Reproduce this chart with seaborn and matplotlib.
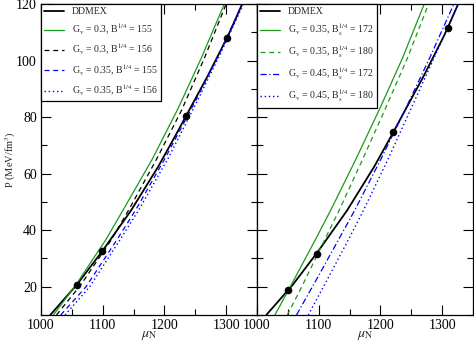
import numpy as np
import pandas as pd
import matplotlib
matplotlib.use("Agg")
import matplotlib.pyplot as plt
from matplotlib.ticker import MultipleLocator
import seaborn as sns

sns.set_theme(style="white")
plt.rcParams['font.family'] = ['Liberation Serif', 'DejaVu Serif']
plt.rcParams['mathtext.fontset'] = 'stix'

# ---------------- data ----------------
# DDMEX hadronic EOS (same curve in both panels)
ddmex_mu = [1015, 1058, 1099, 1146, 1190, 1221, 1235, 1270, 1302, 1309, 1326]
ddmex_P = [10, 20.7, 32.5, 47, 62.5, 74.7, 80.4, 94.5, 108.3, 111.6, 120]

# left panel quark EOS
l_gv03_b155_mu = [1020, 1056, 1105, 1134, 1180, 1222, 1260, 1297]
l_gv03_b155_P = [10, 20.5, 36.6, 47.5, 65, 83, 101, 120]
l_gv03_b156_mu = [1025, 1064, 1114, 1143, 1187, 1228, 1265, 1300]
l_gv03_b156_P = [10, 20.5, 36.6, 47.5, 65, 82.5, 101, 120]
l_gv035_b155_mu = [1032, 1073, 1123, 1153, 1200, 1251, 1290, 1326]
l_gv035_b155_P = [10, 20, 36.6, 47, 65, 86, 103, 120]
l_gv035_b156_mu = [1039, 1079, 1128, 1158, 1205, 1254, 1292, 1328]
l_gv035_b156_P = [10, 20, 36.6, 47, 65, 86, 103, 120]
left_dots_mu = [1058, 1099, 1235, 1302]
left_dots_P = [20.7, 32.5, 80.4, 108]

# right panel quark EOS
r_gv035_b172_mu = [1029, 1051, 1094, 1120, 1160, 1200, 1236, 1271]
r_gv035_b172_P = [10, 18.8, 36.4, 47.3, 65, 83.5, 101, 120]
r_gv035_b180_mu = [1049, 1071, 1098, 1133, 1171, 1209, 1244, 1278]
r_gv035_b180_P = [10, 19.3, 31.4, 47, 65, 83.5, 101, 120]
r_gv045_b172_mu = [1064, 1098, 1132, 1159, 1200, 1242, 1281, 1319]
r_gv045_b172_P = [10, 23.2, 36.6, 47.3, 64.8, 83.5, 101.5, 120]
r_gv045_b180_mu = [1083, 1116, 1148, 1172, 1211, 1250, 1288, 1326]
r_gv045_b180_P = [10, 23.4, 36.6, 46.8, 64.5, 83.2, 101.5, 120]
right_dots_mu = [1051, 1098, 1221, 1309]
right_dots_P = [18.9, 31.6, 74.7, 111.6]

left_labels = ["DDMEX",
               r"G$_\mathrm{v}$ = 0.3, B$^{1/4}$ = 155",
               r"G$_\mathrm{v}$ = 0.3, B$^{1/4}$ = 156",
               r"G$_\mathrm{v}$ = 0.35, B$^{1/4}$ = 155",
               r"G$_\mathrm{v}$ = 0.35, B$^{1/4}$ = 156"]
right_labels = ["DDMEX",
                r"G$_\mathrm{v}$ = 0.35, B$_\mathrm{s}^{1/4}$ = 172",
                r"G$_\mathrm{v}$ = 0.35, B$_\mathrm{s}^{1/4}$ = 180",
                r"G$_\mathrm{v}$ = 0.45, B$_\mathrm{s}^{1/4}$ = 172",
                r"G$_\mathrm{v}$ = 0.45, B$_\mathrm{s}^{1/4}$ = 180"]

GREEN = "#1a9a1a"
BLUE = "#0000ff"

fig = plt.figure(figsize=(4.74, 3.43), dpi=100)
axL = fig.add_axes([41/474, 1-315/343, 216/474, 311/343])
axR = fig.add_axes([257/474, 1-315/343, 216/474, 311/343])

left_series = [
    (ddmex_mu, ddmex_P, "black", "-", 1.3),
    (l_gv03_b155_mu, l_gv03_b155_P, GREEN, "-", 0.9),
    (l_gv03_b156_mu, l_gv03_b156_P, "black", (0, (4, 3)), 0.9),
    (l_gv035_b155_mu, l_gv035_b155_P, BLUE, (0, (4, 3)), 0.9),
    (l_gv035_b156_mu, l_gv035_b156_P, BLUE, (0, (1, 2)), 1.0),
]
right_series = [
    (ddmex_mu, ddmex_P, "black", "-", 1.3),
    (r_gv035_b172_mu, r_gv035_b172_P, GREEN, "-", 0.9),
    (r_gv035_b180_mu, r_gv035_b180_P, GREEN, (0, (4, 3)), 0.9),
    (r_gv045_b172_mu, r_gv045_b172_P, BLUE, (0, (5, 2, 1, 2)), 0.9),
    (r_gv045_b180_mu, r_gv045_b180_P, BLUE, (0, (1, 2)), 1.0),
]

def draw(ax, series, labels, dmu, dP):
    for (mu, P, c, ls, lw), lab in zip(series, labels):
        sns.lineplot(x=mu, y=P, ax=ax, color=c, linestyle=ls, linewidth=lw,
                     label=lab, estimator=None, sort=False)
    sns.scatterplot(x=dmu, y=dP, ax=ax, color="black", s=30, zorder=5,
                    edgecolor="black", linewidth=0)
    ax.set_xlim(1000, 1350)
    ax.set_ylim(10, 120)
    ax.xaxis.set_major_locator(MultipleLocator(100))
    ax.xaxis.set_minor_locator(MultipleLocator(50))
    ax.yaxis.set_major_locator(MultipleLocator(20))
    ax.yaxis.set_minor_locator(MultipleLocator(10))
    ax.tick_params(which="both", direction="in", top=True, right=True,
                   bottom=True, left=True, colors="black", labelsize=10)
    ax.tick_params(axis="x", which="both", pad=3)
    ax.tick_params(axis="y", which="both", pad=3)
    ax.tick_params(which="major", length=7, width=0.8)
    ax.tick_params(which="minor", length=4, width=0.8)
    for s in ax.spines.values():
        s.set_color("black")
        s.set_linewidth(0.9)
    ax.set_xlabel(r"$\mu_\mathrm{N}$", fontsize=10)
    ax.xaxis.set_label_coords(0.5, -0.045)
    leg = ax.legend(loc="upper left", borderaxespad=0, fancybox=False,
                    frameon=True, edgecolor="black", fontsize=7,
                    handlelength=2.0, labelspacing=0.55, borderpad=0.35,
                    handletextpad=0.8)
    leg.get_frame().set_linewidth(0.9)
    leg.get_frame().set_alpha(1)

draw(axL, left_series, left_labels, left_dots_mu, left_dots_P)
draw(axR, right_series, right_labels, right_dots_mu, right_dots_P)
axL.set_ylabel(r"P (MeV/fm$^3$)", fontsize=7.5)
axL.yaxis.set_label_coords(-0.108, 0.5)
axR.set_ylabel("")
axR.tick_params(labelleft=False)

fig.savefig("out.png", dpi=100)
